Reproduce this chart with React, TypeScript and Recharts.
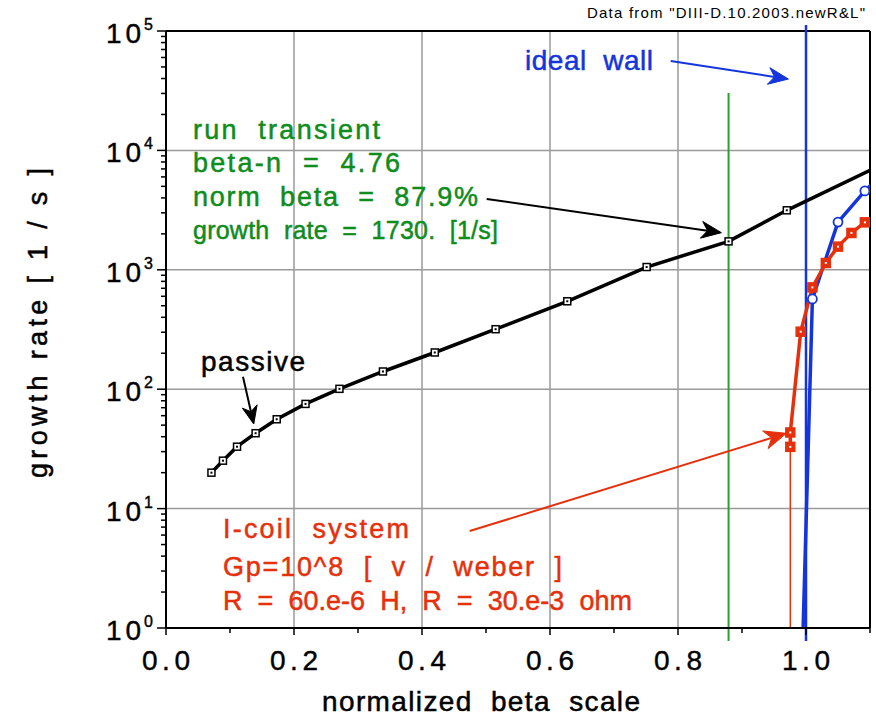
import React from 'react';
import { ComposedChart, Line, XAxis, YAxis, ReferenceLine } from 'recharts';

// passive (no feedback) growth rate vs normalized beta
const passiveBeta = [0.071, 0.089, 0.111, 0.14, 0.173, 0.218, 0.271, 0.339, 0.42, 0.515, 0.627, 0.751, 0.879, 0.97, 1.1];
const passiveRate = [20, 25.2, 33, 42.8, 56, 75.3, 100.7, 140.7, 203, 318, 545, 1055, 1730, 3150, 6800];

// ideal wall branch
const wallBeta = [0.99, 1.01, 1.05, 1.092, 1.135];
const wallRate = [0.09, 570, 2510, 4580, 7600];

// I-coil feedback branch
const coilBeta = [0.9755, 0.9755, 0.9917, 1.01, 1.031, 1.05, 1.071, 1.092, 1.113];
const coilRate = [32.9, 43.4, 303, 712, 1140, 1563, 2035, 2497, 2860];

const xTicks = [0, 0.1, 0.2, 0.3, 0.4, 0.5, 0.6, 0.7, 0.8, 0.9, 1.0, 1.1];
const xGrid = [0.2, 0.4, 0.6, 0.8, 1.0];
const decades = [1, 10, 100, 1000, 10000, 100000];
const yGrid = [10, 100, 1000, 10000];

const FONT = '"Liberation Sans", Arial, sans-serif';
const GREEN = '#0e8c1c';
const GREEN_LINE = '#2e9e30';
const BLUE = '#1434dc';
const RED = '#e6300c';

const yTicks: number[] = [];
decades.slice(0, -1).forEach((d) => {
  for (let m = 1; m <= 9; m++) yTicks.push(m * d);
});
yTicks.push(100000);

const toPoints = (xs: number[], ys: number[], marked: (i: number) => boolean) =>
  xs.map((x, i) => ({ x, y: ys[i], mark: marked(i) }));

const passive = toPoints(passiveBeta, passiveRate, (i) => i < passiveBeta.length - 1);
const wall = toPoints(wallBeta, wallRate, (i) => i >= 1 && i <= 3);
const coil = toPoints(coilBeta, coilRate, (i) => i < coilBeta.length - 1);

// keep the wide word gaps: double spaces become space + nbsp
const wide = (s: string) => s.replace(/ {2}/g, ' \u00a0');

function XTick(props: any) {
  const { x, y, payload } = props;
  const v = payload.value as number;
  const major = Math.round(v * 10) % 2 === 0;
  return (
    <g>
      <line x1={x} y1={y} x2={x} y2={y + (major ? 7 : 5)} stroke="#000" strokeWidth={1.5} />
      {major && (
        <text x={x - 24} y={y + 42} fontSize={28} fontFamily={FONT} fill="#000" stroke="#000" strokeWidth={0.4} textLength={48} lengthAdjust="spacing">
          {v.toFixed(1)}
        </text>
      )}
    </g>
  );
}

function YTick(props: any) {
  const { x, y, payload } = props;
  const v = payload.value as number;
  const exp = Math.round(Math.log10(v));
  const major = Math.abs(v - Math.pow(10, exp)) < 1e-6 * v;
  return (
    <g>
      <line x1={x - (major ? 9 : 5)} y1={y} x2={x} y2={y} stroke="#000" strokeWidth={1.5} />
      {major && (
        <g fontFamily={FONT} fill="#000" stroke="#000" strokeWidth={0.4}>
          <text x={106} y={y + 12} fontSize={28} textLength={35} lengthAdjust="spacing">10</text>
          <text x={144} y={y - 1} fontSize={16}>{exp}</text>
        </g>
      )}
    </g>
  );
}

const squareDot = (fill: string, stroke: string, center: string, size: number) => (p: any) => {
  const { cx, cy, payload, index } = p;
  if (!payload.mark || cx == null || cy == null) return <g key={index} />;
  const h = size / 2;
  return (
    <g key={index}>
      <rect x={cx - h} y={cy - h} width={size} height={size} fill={fill} stroke={stroke} strokeWidth={1.5} />
      <rect x={cx - 1} y={cy - 1} width={2} height={2} fill={center} />
    </g>
  );
};

const circleDot = (p: any) => {
  const { cx, cy, payload, index } = p;
  if (!payload.mark || cx == null || cy == null) return <g key={index} />;
  return <circle key={index} cx={cx} cy={cy} r={4.5} fill="#fff" stroke={BLUE} strokeWidth={1.8} />;
};

// line with a notched arrow head at the second segment point
const arrow = (color: string, width: number, head: number) => (props: any) => {
  const { x1, y1, x2, y2 } = props;
  const a = Math.atan2(y2 - y1, x2 - x1);
  const ux = Math.cos(a);
  const uy = Math.sin(a);
  const half = head * 0.42;
  const bx = x2 - ux * head;
  const by = y2 - uy * head;
  const nx = x2 - ux * head * 0.7;
  const ny = y2 - uy * head * 0.7;
  const d = `M${x2},${y2} L${bx - uy * half},${by + ux * half} L${nx},${ny} L${bx + uy * half},${by - ux * half} Z`;
  return (
    <g>
      <line x1={x1} y1={y1} x2={nx} y2={ny} stroke={color} strokeWidth={width} />
      <path d={d} fill={color} stroke={color} strokeWidth={1} strokeLinejoin="round" />
    </g>
  );
};

const annoText = (x: number, y: number, s: string, len: number, fill: string, size = 27, weight = 0.5) => (
  <text
    x={x}
    y={y}
    fontSize={size}
    fontFamily={FONT}
    fill={fill}
    stroke={fill}
    strokeWidth={weight}
    textLength={len}
    lengthAdjust="spacing"
  >
    {wide(s)}
  </text>
);

export default function App() {
  return (
    <div style={{ position: 'relative', width: 876, height: 716 }}>
      <style>{'body{margin:0}'}</style>
      <ComposedChart width={876} height={716} margin={{ top: 31, right: 6, bottom: 0, left: 0 }}>
        <XAxis
          type="number"
          dataKey="x"
          domain={[0, 1.1]}
          allowDataOverflow
          ticks={xTicks}
          interval={0}
          height={88}
          tickSize={0}
          tickMargin={0}
          tick={<XTick />}
          tickLine={false}
          axisLine={{ stroke: '#000', strokeWidth: 2 }}
        />
        <YAxis
          type="number"
          dataKey="y"
          scale="log"
          domain={[1, 100000]}
          allowDataOverflow
          ticks={yTicks}
          interval={0}
          width={166}
          tickSize={0}
          tickMargin={0}
          tick={<YTick />}
          tickLine={false}
          axisLine={{ stroke: '#000', strokeWidth: 2 }}
        />
        {xGrid.map((v) => (
          <ReferenceLine key={`gx${v}`} x={v} stroke="#9a9a9a" strokeWidth={1.5} />
        ))}
        {yGrid.map((v) => (
          <ReferenceLine key={`gy${v}`} y={v} stroke="#9a9a9a" strokeWidth={1.5} />
        ))}
        <ReferenceLine y={100000} stroke="#000" strokeWidth={2} />
        <ReferenceLine x={1.1} stroke="#000" strokeWidth={2} />

        {/* marker lines: transient beta, ideal wall limit, I-coil onset */}
        <ReferenceLine segment={[{ x: 0.879, y: 0.78 }, { x: 0.879, y: 30300 }]} stroke={GREEN_LINE} strokeWidth={2} ifOverflow="visible" />
        <ReferenceLine segment={[{ x: 1.0, y: 0.78 }, { x: 1.0, y: 112000 }]} stroke={BLUE} strokeWidth={2.5} ifOverflow="visible" />
        <ReferenceLine segment={[{ x: 0.9755, y: 1 }, { x: 0.9755, y: 32.9 }]} stroke={RED} strokeWidth={1.5} ifOverflow="visible" />

        <Line data={passive} dataKey="y" type="linear" stroke="#000" strokeWidth={3.5} dot={squareDot('#fff', '#000', '#000', 7)} isAnimationActive={false} />
        <Line data={wall} dataKey="y" type="linear" stroke={BLUE} strokeWidth={3.5} dot={circleDot} isAnimationActive={false} />
        <Line data={coil} dataKey="y" type="linear" stroke={RED} strokeWidth={3.5} dot={squareDot(RED, RED, '#fff', 9)} isAnimationActive={false} />

        {/* annotation arrows */}
        <ReferenceLine segment={[{ x: 0.7886, y: 56100 }, { x: 0.9725, y: 39600 }]} shape={arrow(BLUE, 2, 20)} ifOverflow="visible" />
        <ReferenceLine segment={[{ x: 0.5011, y: 3917 }, { x: 0.8678, y: 2046 }]} shape={arrow('#000', 2, 20)} ifOverflow="visible" />
        <ReferenceLine segment={[{ x: 0.1203, y: 127 }, { x: 0.1371, y: 51.1 }]} shape={arrow('#000', 2, 18)} ifOverflow="visible" />
        <ReferenceLine segment={[{ x: 0.4745, y: 6.49 }, { x: 0.9694, y: 42.7 }]} shape={arrow(RED, 2, 22)} ifOverflow="visible" />
      </ComposedChart>
      <svg width={876} height={716} style={{ position: 'absolute', left: 0, top: 0, pointerEvents: 'none' }}>
        {annoText(587, 18, 'Data from "DIII-D.10.2003.newR&L"', 278, '#000', 15, 0)}
        {annoText(525, 70, 'ideal  wall', 128, BLUE, 28)}
        {annoText(193, 139, 'run  transient', 187, GREEN)}
        {annoText(193, 172, 'beta-n  =  4.76', 207, GREEN)}
        {annoText(193, 205.5, 'norm  beta  =  87.9%', 285, GREEN)}
        {annoText(193, 239, 'growth  rate  =  1730.  [1/s]', 305, GREEN, 25)}
        {annoText(201, 371, 'passive', 104, '#000', 28)}
        {annoText(223, 538, 'I-coil  system', 186, RED)}
        {annoText(223, 576, 'Gp=10^8  [  v  /  weber  ]', 339, RED)}
        {annoText(223, 610, 'R  =  60.e-6  H,  R  =  30.e-3  ohm', 409, RED)}
        {annoText(322, 711, 'normalized  beta  scale', 318, '#000', 28)}
        <text
          transform="translate(47,478) rotate(-90)"
          fontSize={27}
          fontFamily={FONT}
          fill="#000"
          stroke="#000"
          strokeWidth={0.5}
          textLength={310}
          lengthAdjust="spacing"
        >
          growth rate [ 1 / s ]
        </text>
      </svg>
    </div>
  );
}
